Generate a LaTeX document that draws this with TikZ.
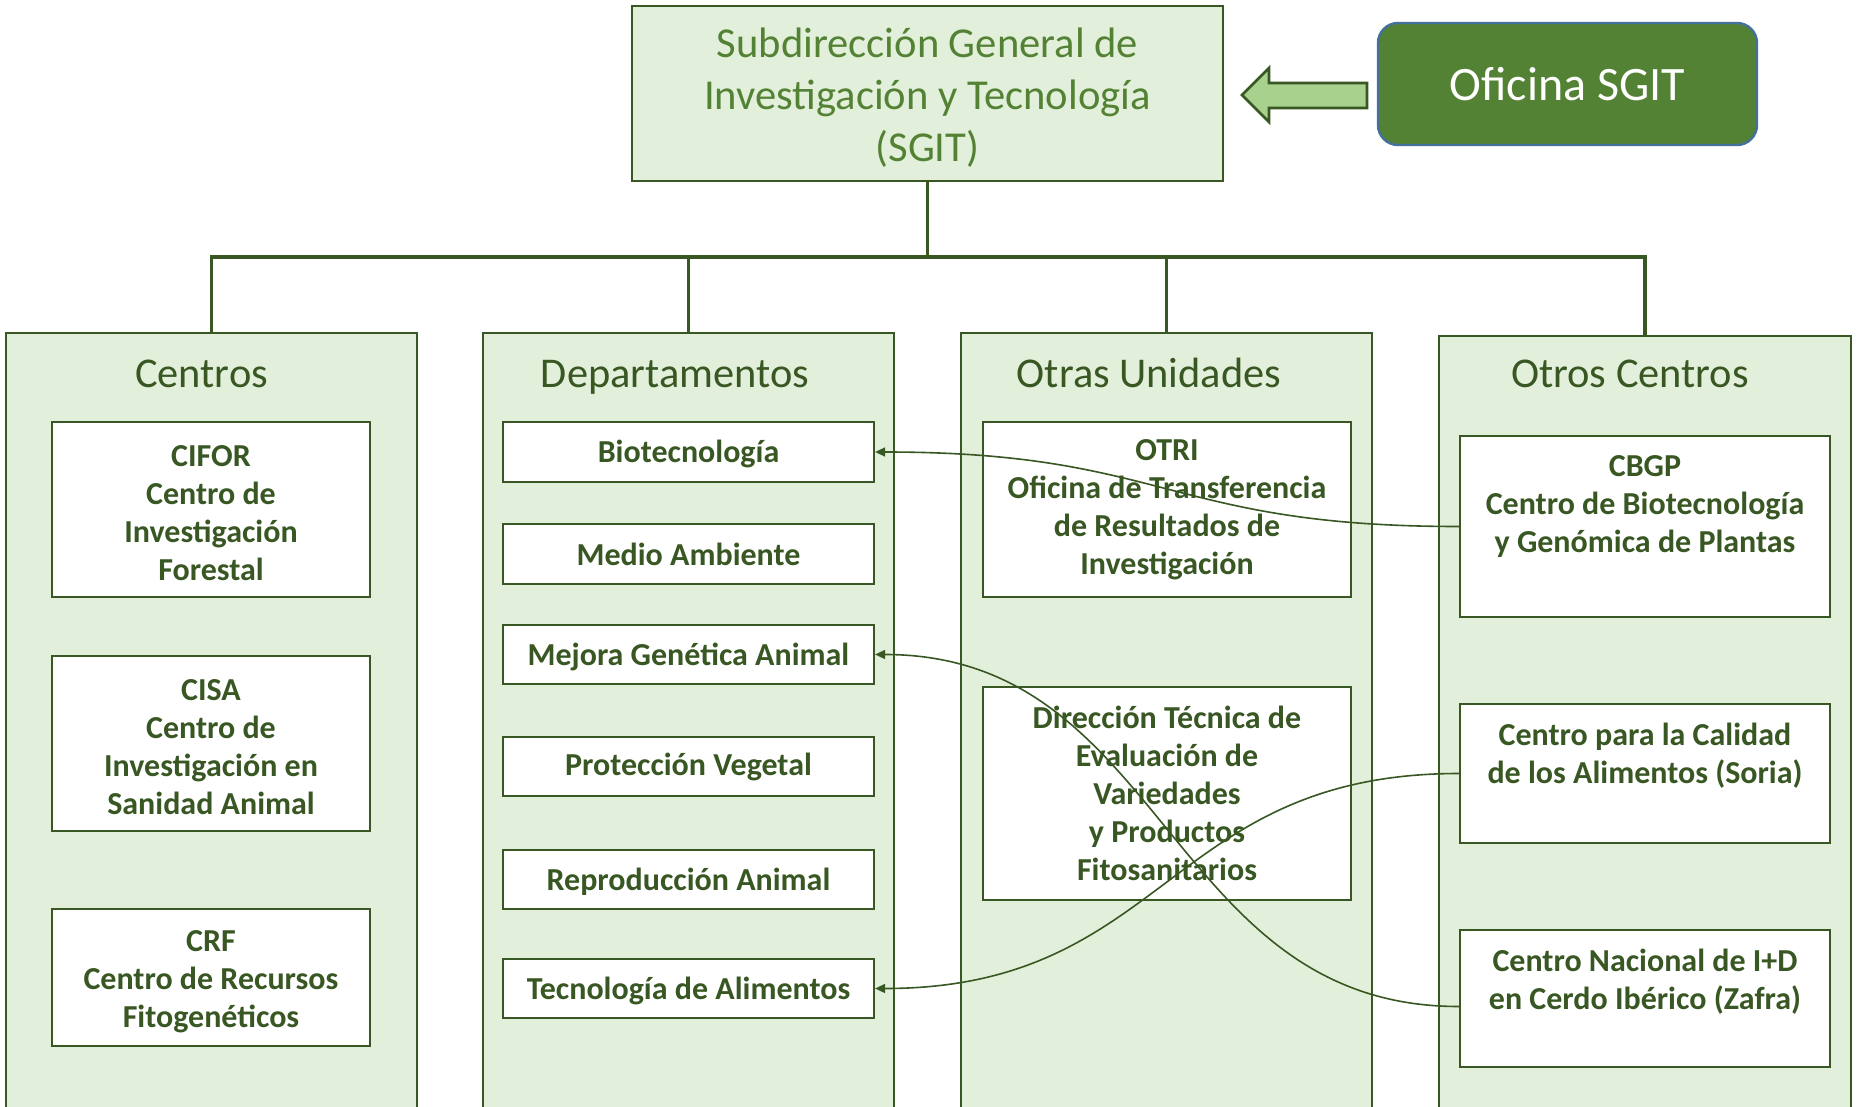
\documentclass[tikz,border=0pt]{standalone}
\usepackage{fontspec}
\setmainfont{Carlito}
\usetikzlibrary{arrows.meta,calc}
\definecolor{panelfill}{HTML}{E2EFDA}
\definecolor{dkgreen}{HTML}{385723}
\definecolor{mdgreen}{HTML}{548235}
\definecolor{ltgreen}{HTML}{A9D18E}
\definecolor{edgeblue}{HTML}{41719C}
\newcommand{\sconn}[2]{%
  \draw[conn] let \p1=(#1), \p2=(#2) in
    (\p1) .. controls ({(\x1+\x2)/2},\y1) and ({(\x1+\x2)/2},\y2) .. (\p2);}
\begin{document}
\begin{tikzpicture}[x=0.5pt,y=-0.5pt,
  panel/.style={draw=dkgreen, line width=1pt, fill=panelfill, inner sep=0, minimum width=205.5pt, minimum height=393.5pt},
  ptitle/.style={text=dkgreen, font=\fontsize{21.2}{25}\selectfont, inner sep=0, anchor=base},
  unit/.style={draw=dkgreen, line width=1.1pt, fill=white, align=center, text=dkgreen, inner sep=0,
               font=\bfseries\fontsize{16}{19}\selectfont},
  utext/.style={align=center, text=dkgreen, inner sep=0, anchor=north, font=\bfseries\fontsize{16}{19}\selectfont},
  ctext/.style={align=center, text=dkgreen, inner sep=0, font=\bfseries\fontsize{16}{19}\selectfont},
  trunk/.style={draw=dkgreen, line width=1.75pt},
  conn/.style={draw=dkgreen, line width=0.8pt, -{Triangle[length=5pt,width=4.5pt]}}]
\useasboundingbox (0,0) rectangle (1858,1107);
\clip (0,0) rectangle (1858,1107);
\fill[white] (0,0) rectangle (1858,1107);

% top
\node[draw=dkgreen, line width=1pt, fill=panelfill, minimum width=295.5pt, minimum height=87.5pt, inner sep=0] (top) at (927.5,93.5) {};
\node[align=center, text=mdgreen, inner sep=0, font=\fontsize{21.3}{26}\selectfont] (toptext) at (927.5,97.5)
  {Subdirección General de\\Investigación y Tecnología\\(SGIT)};
\node[draw=edgeblue, line width=1.2pt, fill=mdgreen, rounded corners=10pt, minimum width=189.5pt, minimum height=61pt,
      inner sep=0, text=white, font=\fontsize{24}{28}\selectfont] (ofi) at (1567.5,84) {Oficina SGIT};
\draw[dkgreen, line width=1.3pt, fill=ltgreen, line join=miter]
  (1242,95) -- (1269,68) -- (1269,83) -- (1367,83) -- (1367,108) -- (1269,108) -- (1269,122) -- cycle;

% panels
\node[panel] (pc) at (211.5,726.5) {};
\node[panel] (pd) at (688.5,726.5) {};
\node[panel] (pu) at (1166.5,726.5) {};
\node[panel, minimum width=206pt, minimum height=392pt] (po) at (1645,728) {};

% trunk
\coordinate (bus) at (927.5,257);
\draw[trunk] (top.south) -- (bus);
\draw[trunk] (pc.north) -- (pc.north |- bus) -- (po.north |- bus) -- (po.north);
\draw[trunk] (pd.north) -- (pd.north |- bus);
\draw[trunk] (pu.north) -- (pu.north |- bus);

% titles
\node[ptitle] (tc) at (201.5,387) {Centros};
\node[ptitle] (td) at (675,387) {Departamentos};
\node[ptitle] (tu) at (1149,387) {Otras Unidades};
\node[ptitle] (to) at (1630,387) {Otros Centros};

% Centros
\node[unit, minimum width=159pt, minimum height=87.5pt] (cifor) at (211,509.5) {};
\node[ctext] (cifort) at (211,513.5) {CIFOR\\Centro de\\Investigación\\Forestal};
\node[unit, minimum width=159pt, minimum height=87.5pt] (cisa) at (211,743.5) {};
\node[ctext] (cisat) at (211,747.5) {CISA\\Centro de\\Investigación en\\Sanidad Animal};
\node[unit, minimum width=159pt, minimum height=68.5pt] (crf) at (211,977.5) {};
\node[ctext] (crft) at (211,981.5) {CRF\\Centro de Recursos\\Fitogenéticos};

% Departamentos
\node[unit, minimum width=185.5pt, minimum height=30pt] (bio) at (688.5,452) {};
\node[ctext] (biot) at (688.5,454) {Biotecnología};
\node[unit, minimum width=185.5pt, minimum height=30pt] (med) at (688.5,554) {Medio Ambiente};
\node[unit, minimum width=185.5pt, minimum height=29.5pt] (mej) at (688.5,654.5) {};
\node[ctext] (mejt) at (688.5,656.5) {Mejora Genética Animal};
\node[unit, minimum width=185.5pt, minimum height=29.5pt] (pro) at (688.5,766.5) {Protección Vegetal};
\node[unit, minimum width=185.5pt, minimum height=29.5pt] (rep) at (688.5,879.5) {};
\node[ctext] (rept) at (688.5,881.5) {Reproducción Animal};
\node[unit, minimum width=185.5pt, minimum height=29.5pt] (tec) at (688.5,988.5) {};
\node[ctext] (tect) at (688.5,990.5) {Tecnología de Alimentos};

% Otras Unidades
\node[unit, minimum width=184pt, minimum height=87.5pt] (otri) at (1167,509.5)
  {OTRI\\Oficina de Transferencia\\de Resultados de\\Investigación};
\node[unit, minimum width=184pt, minimum height=106.5pt] (dir) at (1167,793.5)
  {Dirección Técnica de\\Evaluación de\\Variedades\\y Productos\\Fitosanitarios};

% Otros Centros
\node[unit, minimum width=185pt, minimum height=90.5pt] (cbgp) at (1645,526.5) {};
\node[utext] (cbgpt) at ([yshift=-10pt]cbgp.north) {CBGP\\Centro de Biotecnología\\y Genómica de Plantas};
\node[unit, minimum width=185pt, minimum height=69.5pt] (cal) at (1645,773.5) {};
\node[utext] (calt) at ([yshift=-10pt]cal.north) {Centro para la Calidad\\de los Alimentos (Soria)};
\node[unit, minimum width=185pt, minimum height=68.5pt] (zaf) at (1645,998.5) {};
\node[utext] (zaft) at ([yshift=-10pt]zaf.north) {Centro Nacional de I+D\\en Cerdo Ibérico (Zafra)};

% connectors
\sconn{cbgp.west}{bio.east}
\sconn{cal.west}{tec.east}
\sconn{$(zaf.west)+(0,8)$}{mej.east}
\end{tikzpicture}
\end{document}
